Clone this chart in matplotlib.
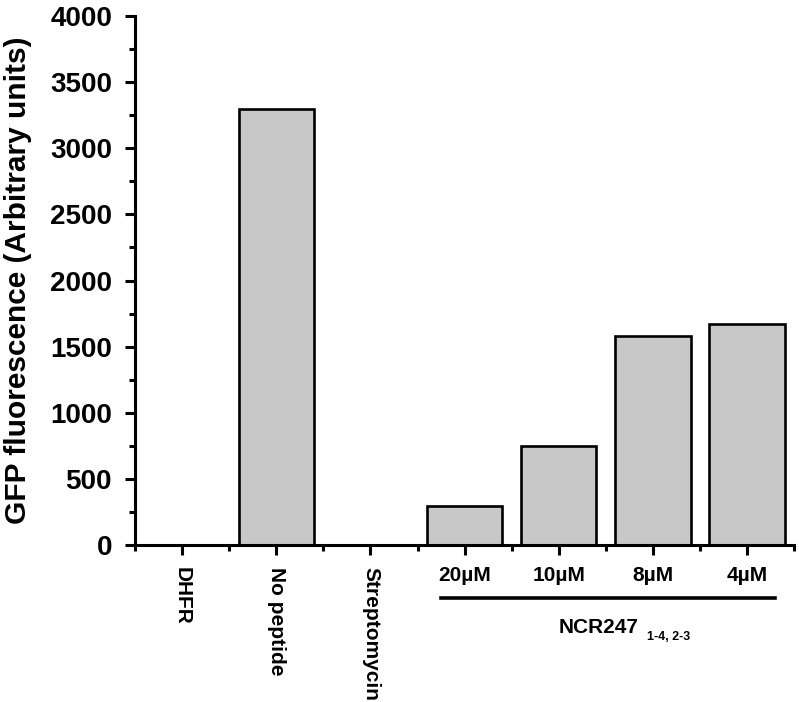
import matplotlib

matplotlib.use("Agg")
import matplotlib.pyplot as plt
from matplotlib.ticker import MultipleLocator, FixedLocator

plt.rcParams["font.family"] = ["Liberation Sans", "DejaVu Sans"]
plt.rcParams["font.weight"] = "bold"

# bar categories and values (GFP fluorescence, arbitrary units)
CATEGORIES = ["DHFR", "No peptide", "Streptomycin", "20µM", "10µM", "8µM", "4µM"]
VALUES = [0, 3295, 0, 298, 748, 1578, 1668]
ROTATED = ["DHFR", "No peptide", "Streptomycin"]
CONC = ["20µM", "10µM", "8µM", "4µM"]

fig = plt.figure(figsize=(7.99, 7.02), dpi=100)
ax = fig.add_axes([0.169, 0.2236, 0.825, 0.7536])

xs = list(range(len(CATEGORIES)))
ax.bar(xs, VALUES, width=0.8, color="#c8c8c8", edgecolor="black", linewidth=1.9)

ax.set_xlim(-0.5, len(CATEGORIES) - 0.5)
ax.set_ylim(0, 4000)
ax.yaxis.set_major_locator(MultipleLocator(500))
ax.yaxis.set_minor_locator(MultipleLocator(250))
ax.set_xticks(xs)
ax.set_xticklabels([])
ax.xaxis.set_minor_locator(FixedLocator([x - 0.5 for x in xs] + [xs[-1] + 0.5]))

for side in ["top", "right"]:
    ax.spines[side].set_visible(False)
for side in ["left", "bottom"]:
    ax.spines[side].set_linewidth(2.2)

ax.tick_params(axis="both", which="major", direction="out", length=7.5, width=2.2)
ax.tick_params(axis="both", which="minor", direction="out", length=4.5, width=2.2)
ax.tick_params(axis="y", labelsize=20, pad=9)
for lbl in ax.get_yticklabels():
    lbl.set_fontweight("bold")

ax.set_ylabel("GFP fluorescence (Arbitrary units)", fontsize=21.5, fontweight="bold")
ax.yaxis.set_label_coords(-0.156, 0.5)

# rotated control labels
for name in ROTATED:
    i = CATEGORIES.index(name)
    ax.annotate(name, xy=(i, 0), xycoords=("data", "axes fraction"),
                xytext=(0, -15.5), textcoords="offset points",
                rotation=270, ha="center", va="top",
                fontsize=15, fontweight="bold")

# concentration labels
for name in CONC:
    i = CATEGORIES.index(name)
    ax.annotate(name, xy=(i, 0), xycoords=("data", "axes fraction"),
                xytext=(0, -15), textcoords="offset points",
                ha="center", va="top", fontsize=15, fontweight="bold")

# group bracket line and label
i0 = CATEGORIES.index(CONC[0])
i1 = CATEGORIES.index(CONC[-1])
ax.plot([i0 - 0.25, i1 + 0.3], [0, 0], color="black", lw=2.6,
        transform=ax.get_xaxis_transform()
        + matplotlib.transforms.ScaledTranslation(0, -0.53, fig.dpi_scale_trans),
        clip_on=False)
ax.annotate("NCR247", xy=(i0 + 1.0, 0), xycoords=("data", "axes fraction"),
            xytext=(0, -63.5), textcoords="offset points",
            ha="left", va="baseline", fontsize=15, fontweight="bold")
ax.annotate("1-4, 2-3", xy=(i0 + 1.94, 0), xycoords=("data", "axes fraction"),
            xytext=(0, -68.5), textcoords="offset points",
            ha="left", va="baseline", fontsize=9, fontweight="bold")

fig.savefig("out.png", dpi=100)
